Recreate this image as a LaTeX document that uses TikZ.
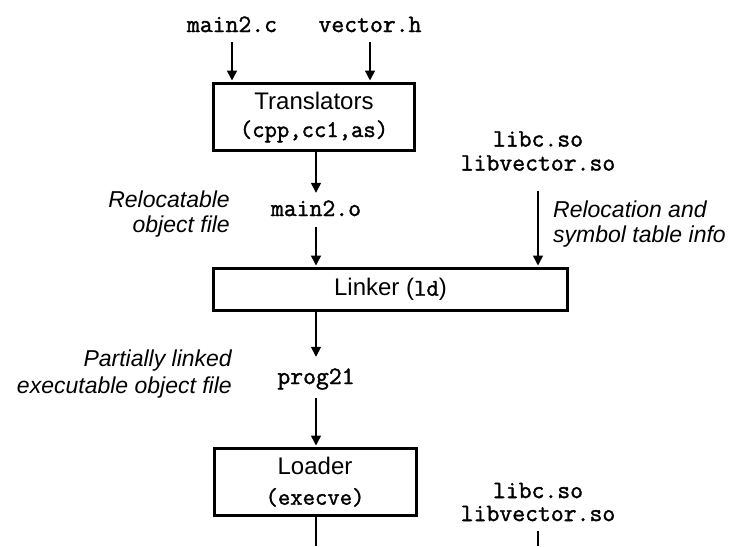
\documentclass[tikz,border=0pt]{standalone}
\usepackage{fontspec}
\setmainfont{Liberation Sans}
\setmonofont{Latin Modern Mono}[FakeBold=1.5]
\usetikzlibrary{arrows.meta,calc}
\begin{document}
\begin{tikzpicture}[x=1pt,y=-1pt,
  box/.style={draw, line width=3pt, inner sep=0pt, align=center, font=\fontsize{24}{28}\selectfont},
  mono/.style={inner sep=0pt, font=\ttfamily\fontsize{25}{24}\selectfont, text height=14pt, text depth=4pt, anchor=base},
  monolines/.style={inner sep=0pt, align=center, font=\ttfamily\fontsize{25}{24}\selectfont},
  note/.style={inner sep=0pt, font=\itshape\fontsize{23}{25}\selectfont},
  arr/.style={line width=1.5pt, -{Triangle[width=10pt,length=10pt]}},
  ln/.style={line width=1.5pt}]
\useasboundingbox (0,0) rectangle (735,546);

% top inputs
\node[mono] (m2c) at (232,32) {main2.c};
\node[mono] (vech) at (370,32) {vector.h};

% translators
\node[box, minimum width=201pt, minimum height=67pt] (trans) at (314,117)
  {Translators\\{\ttfamily\fontsize{24}{28}\selectfont (cpp,cc1,as)}};

% relocatable object
\node[mono] (m2o) at (316,216) {main2.o};
\node[note, align=right, anchor=east] (relo) at (230,214.5) {Relocatable\\object file};

% shared libs (upper)
\node[monolines] (libs1) at (538,151) {libc.so\\libvector.so};
\node[note, align=left, anchor=west] (reloc) at (553,224.5) {Relocation and\\symbol table info};

% linker
\node[box, minimum width=354pt, minimum height=42pt] (link) at (390.5,289.5)
  {Linker ({\ttfamily\fontsize{24}{28}\selectfont ld})};

% partially linked
\node[mono] (prog) at (316,384) {prog21};
\node[note, align=right, anchor=east, font=\itshape\fontsize{23}{27}\selectfont] (part) at (232,374.5)
  {Partially linked\\executable object file};

% loader
\node[box, minimum width=202pt, minimum height=67pt, font=\fontsize{24}{30}\selectfont] (load) at (315,482)
  {Loader\\{\ttfamily\fontsize{24}{30}\selectfont (execve)}};

% shared libs (lower)
\node[monolines, font=\ttfamily\fontsize{25}{23}\selectfont] (libs2) at (538,502) {libc.so\\libvector.so};

\coordinate (end1) at (316,546);
\coordinate (end2) at (538,546);

% connectors
\draw[arr, shorten <=6pt, shorten >=1.5pt] (m2c.south) -- (m2c.south |- trans.north);
\draw[arr, shorten <=6pt, shorten >=1.5pt] (vech.south) -- (vech.south |- trans.north);
\draw[arr, shorten >=9pt] (m2o.north |- trans.south) -- (m2o.north);
\draw[arr, shorten <=7pt, shorten >=1.5pt] (m2o.south) -- (m2o.south |- link.north);
\draw[arr, shorten <=20pt, shorten >=1.5pt] (libs1.south) -- (libs1.south |- link.north);
\draw[arr, shorten >=13pt] (prog.north |- link.south) -- (prog.north);
\draw[arr, shorten <=10pt, shorten >=1.5pt] (prog.south) -- (prog.south |- load.north);
\draw[ln] (end1 |- load.south) -- (end1);
\draw[ln, shorten <=10pt] (libs2.south) -- (end2);
\end{tikzpicture}
\end{document}
